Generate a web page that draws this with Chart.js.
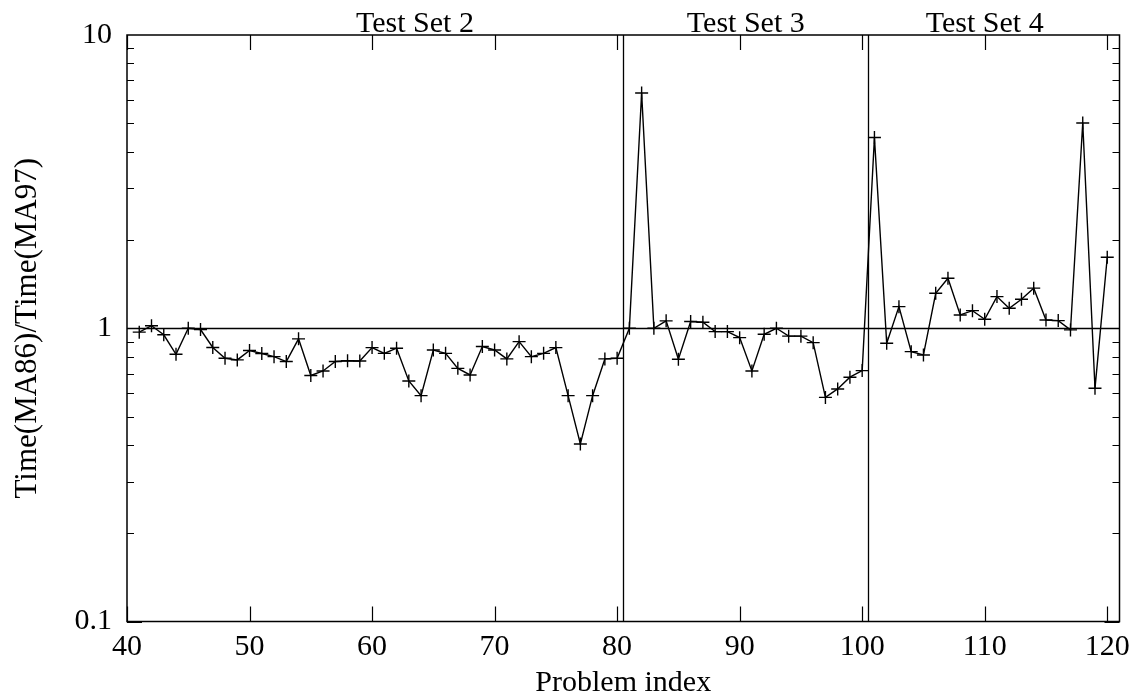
<!DOCTYPE html>
<html>
<head>
<meta charset="utf-8">
<script src="https://cdn.jsdelivr.net/npm/chart.js@4/dist/chart.umd.min.js"></script>
<style>
  body { margin: 0; background: #fff; }
  canvas { display: block; }
</style>
</head>
<body>
<canvas id="ratioChart" width="1143" height="698"></canvas>
<script>
// problem index and timing ratio
var problemIndex = [
    41, 42, 43, 44, 45, 46, 47, 48, 49, 50,
    51, 52, 53, 54, 55, 56, 57, 58, 59, 60,
    61, 62, 63, 64, 65, 66, 67, 68, 69, 70,
    71, 72, 73, 74, 75, 76, 77, 78, 79, 80,
    81, 82, 83, 84, 85, 86, 87, 88, 89, 90,
    91, 92, 93, 94, 95, 96, 97, 98, 99, 100,
    101, 102, 103, 104, 105, 106, 107, 108, 109, 110,
    111, 112, 113, 114, 115, 116, 117, 118, 119, 120
];
var timeRatio = [
    0.97, 1.02, 0.95, 0.815, 1.0, 0.99, 0.86, 0.79, 0.78, 0.84,
    0.82, 0.80, 0.77, 0.92, 0.69, 0.715, 0.77, 0.775, 0.773, 0.859,
    0.821, 0.855, 0.661, 0.589, 0.843, 0.821, 0.73, 0.693, 0.866, 0.843,
    0.786, 0.90, 0.80, 0.821, 0.859, 0.589, 0.403, 0.589, 0.786, 0.79,
    1.0, 6.34, 1.0, 1.06, 0.784, 1.054, 1.048, 0.974, 0.974, 0.929,
    0.715, 0.954, 1.0, 0.94, 0.94, 0.893, 0.581, 0.621, 0.681, 0.717,
    4.47, 0.889, 1.185, 0.832, 0.811, 1.316, 1.481, 1.11, 1.148, 1.073,
    1.282, 1.17, 1.256, 1.37, 1.067, 1.062, 0.987, 5.01, 0.624, 1.747
];

var xTicks = [40, 50, 60, 70, 80, 90, 100, 110, 120];
var yTicks = [0.1, 1, 10];
var setDividers = [80.5, 100.5];
var referenceLevel = 1;
var setNames = ['Test Set 2', 'Test Set 3', 'Test Set 4'];
var setNameAt = [63.5, 90.5, 110];

var serif = "'Liberation Serif', 'Times New Roman', serif";
var labelFont = { family: serif, size: 30 };

// gnuplot style frame: inward ticks on all four sides, divider lines, set names
var gnuFrame = {
    id: 'gnuFrame',
    beforeDatasetsDraw(chart) {
        var ctx = chart.ctx, a = chart.chartArea;
        var xs = chart.scales.x, ys = chart.scales.y;
        ctx.save();
        ctx.strokeStyle = '#000';
        ctx.lineWidth = 1.3;
        ctx.beginPath();
        var yr = Math.round(ys.getPixelForValue(referenceLevel)) + 0.5;
        ctx.moveTo(a.left, yr);
        ctx.lineTo(a.right, yr);
        setDividers.forEach(v => {
            var px = Math.round(xs.getPixelForValue(v)) + 0.5;
            ctx.moveTo(px, a.top);
            ctx.lineTo(px, a.bottom);
        });
        ctx.stroke();
        ctx.restore();
    },
    afterDatasetsDraw(chart) {
        var ctx = chart.ctx, a = chart.chartArea;
        var xs = chart.scales.x, ys = chart.scales.y;
        ctx.save();
        ctx.strokeStyle = '#000';
        ctx.lineWidth = 1.5;
        ctx.strokeRect(a.left, a.top, a.right - a.left, a.bottom - a.top);

        ctx.lineWidth = 1.2;
        ctx.beginPath();
        xTicks.forEach(v => {
            var px = Math.round(xs.getPixelForValue(v)) + 0.5;
            ctx.moveTo(px, a.bottom);
            ctx.lineTo(px, a.bottom - 15);
            ctx.moveTo(px, a.top);
            ctx.lineTo(px, a.top + 15);
        });
        for (var d = 0.1; d < 10; d *= 10) {
            for (var m = 1; m <= 9; m++) {
                var val = d * m;
                var len = m === 1 ? 15 : 7;
                var py = Math.round(ys.getPixelForValue(val)) + 0.5;
                ctx.moveTo(a.left, py);
                ctx.lineTo(a.left + len, py);
                ctx.moveTo(a.right, py);
                ctx.lineTo(a.right - len, py);
            }
        }
        ctx.stroke();

        ctx.fillStyle = '#000';
        ctx.font = '30px ' + serif;
        ctx.textAlign = 'center';
        ctx.textBaseline = 'alphabetic';
        setNames.forEach((name, i) => {
            ctx.fillText(name, xs.getPixelForValue(setNameAt[i]), 32);
        });
        ctx.restore();
    }
};

var ratioChart = new Chart('ratioChart', {
    type: 'line',
    data: {
        datasets: [{
            data: problemIndex.map((x, i) => ({ x: x, y: timeRatio[i] })),
            borderColor: '#000',
            borderWidth: 1.4,
            pointStyle: 'cross',
            pointRadius: 6.5,
            pointBorderWidth: 1.4,
            pointBorderColor: '#000',
            pointBackgroundColor: '#000',
            tension: 0,
            fill: false
        }]
    },
    options: {
        responsive: false,
        animation: false,
        devicePixelRatio: 1,
        layout: { padding: { top: 35, right: 23.5, left: 0, bottom: 0 } },
        plugins: {
            legend: { display: false },
            tooltip: { enabled: false }
        },
        scales: {
            x: {
                type: 'linear',
                min: 40,
                max: 121,
                afterBuildTicks: s => { s.ticks = xTicks.map(v => ({ value: v })); },
                afterFit: s => { s.height = 76.5; },
                grid: { display: false, drawTicks: false },
                border: { display: false },
                ticks: { color: '#000', font: labelFont, padding: 8, maxRotation: 0, autoSkip: false },
                title: { display: true, text: 'Problem index', color: '#000', font: labelFont, padding: { top: 0, bottom: -3 } }
            },
            y: {
                type: 'logarithmic',
                min: 0.1,
                max: 10,
                afterBuildTicks: s => { s.ticks = yTicks.map(v => ({ value: v })); },
                afterFit: s => { s.width = 127; },
                grid: { display: false, drawTicks: false },
                border: { display: false },
                ticks: { color: '#000', font: labelFont, padding: 15, callback: v => String(v) },
                title: { display: true, text: 'Time(MA86)/Time(MA97)', color: '#000', font: { family: serif, size: 31 }, padding: { top: 9, bottom: 0 } }
            }
        }
    },
    plugins: [gnuFrame]
});
</script>
</body>
</html>
